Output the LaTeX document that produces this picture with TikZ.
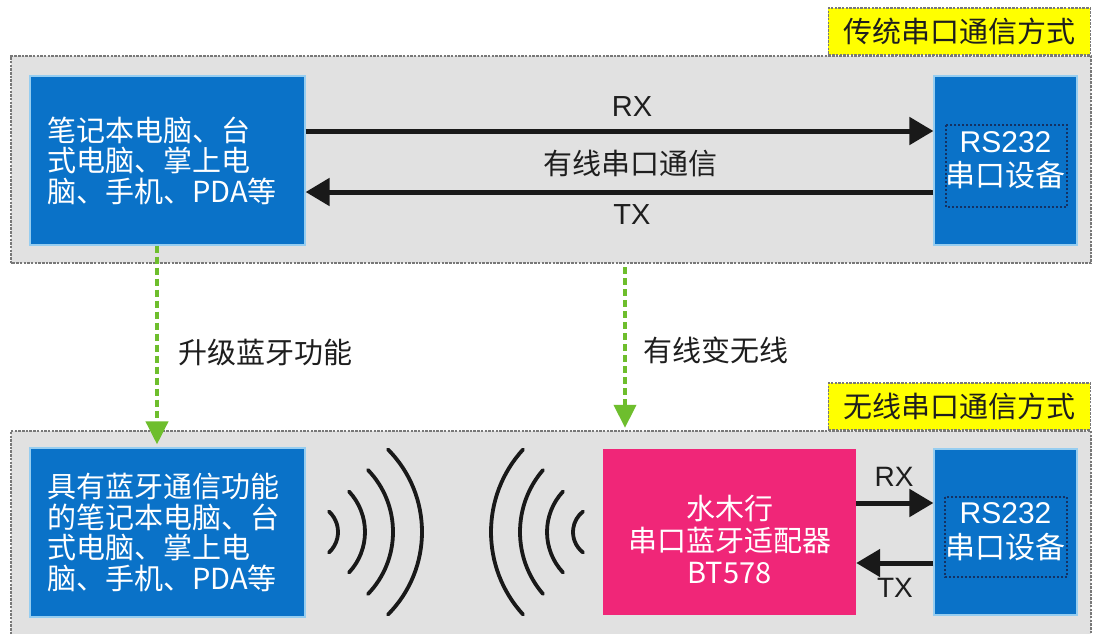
\documentclass[tikz,border=0pt]{standalone}
\usepackage{fontspec}
\setmainfont{Liberation Sans}
\newfontfamily\cjk{Noto Sans CJK SC}
\usetikzlibrary{arrows.meta,calc}
\definecolor{boxblue}{RGB}{10,114,200}
\definecolor{edgeblue}{RGB}{150,205,240}
\definecolor{pinkbox}{RGB}{240,38,120}
\definecolor{panelgray}{RGB}{225,225,225}
\definecolor{edgegray}{RGB}{120,120,120}
\definecolor{tagyellow}{RGB}{255,255,0}
\definecolor{arrowgreen}{RGB}{110,190,45}
\definecolor{ink}{RGB}{30,30,30}
\definecolor{innerdash}{RGB}{20,50,100}
\begin{document}
\begin{tikzpicture}[x=1pt,y=-1pt,
  panel/.style={rectangle, fill=panelgray, draw=none, inner sep=0pt},
  paneledge/.style={draw=edgegray, line width=1.5pt, dash pattern=on 2.5pt off 1.2pt},
  tagbox/.style={rectangle, fill=tagyellow, draw=edgegray, line width=1.5pt, dash pattern=on 2.5pt off 1.2pt,
     minimum width=262pt, minimum height=47pt, inner sep=0pt, anchor=south east,
     font=\cjk\fontsize{29}{30}\selectfont, text=ink},
  bluebox/.style={rectangle, fill=boxblue, draw=edgeblue, line width=1.2pt, text=white, inner sep=0pt},
  pcbox/.style={bluebox, minimum width=275pt, minimum height=169pt, text width=241pt, align=left,
     font=\cjk\fontsize{29}{30.5}\selectfont},
  devbox/.style={bluebox, minimum width=143pt, align=center, font=\fontsize{30}{34.5}\selectfont},
  pinknode/.style={rectangle, fill=pinkbox, draw=none, text=white, inner sep=0pt, minimum width=253pt,
     minimum height=166pt, align=center, font=\cjk\fontsize{29}{32}\selectfont},
  innerdashed/.style={draw=innerdash, line width=1.2pt, dash pattern=on 2pt off 2pt},
  sig/.style={draw=black!90, line width=5pt, -{Triangle[length=24pt,width=27pt]}},
  greenarrow/.style={draw=arrowgreen, line width=4pt, dash pattern=on 7pt off 4pt,
     -{Triangle[length=23pt,width=22pt]}},
  wave/.style={draw=black!90, line width=3.8pt, line cap=round},
  lbl/.style={font=\fontsize{29}{30}\selectfont, text=ink, inner sep=0pt},
  cjklbl/.style={font=\cjk\fontsize{29}{30}\selectfont, text=ink, inner sep=0pt}
]
\useasboundingbox (0,0) rectangle (1094,634);
\clip (0,0) rectangle (1094,634);
\fill[white] (0,0) rectangle (1094,634);

% panels
\node[panel, minimum width=1080pt, minimum height=207pt] (panel1) at (551,159.5) {};
\draw[paneledge] (panel1.south west) rectangle (panel1.north east);
\node[panel, minimum width=1080pt, minimum height=203pt] (panel2) at (551,532.5) {};
\draw[paneledge] (panel2.south west) -- (panel2.north west) -- (panel2.north east) -- (panel2.south east);

\node[tagbox] (tag1) at (panel1.north east) {传统串口通信方式};
\node[tagbox] (tag2) at (panel2.north east) {无线串口通信方式};

% top boxes
\node[pcbox] (pc1) at (167.5,160.5) {笔记本电脑、台\\式电脑、掌上电\\脑、手机、PDA等};
\node[devbox, minimum height=169pt] (dev1) at (1005.5,160.5) {RS232\\{\cjk 串口设备}};
\draw[innerdashed] (946,125) rectangle (1067,207);

% bottom boxes
\node[pcbox] (pc2) at (167.5,532.5) {具有蓝牙通信功能\\的笔记本电脑、台\\式电脑、掌上电\\脑、手机、PDA等};
\node[pinknode] (adapter) at (729.5,532) {\rule{0pt}{40pt}水木行\\串口蓝牙适配器\\BT578};
\node[devbox, minimum height=166pt] (dev2) at (1005.5,532) {RS232\\{\cjk 串口设备}};
\draw[innerdashed] (945,497) rectangle (1067,577);

% top signal arrows
\coordinate (rxy1) at (0,131);
\coordinate (txy1) at (0,192);
\draw[sig] (pc1.east |- rxy1) -- (dev1.west |- rxy1);
\draw[sig] (dev1.west |- txy1) -- (pc1.east |- txy1);
\node[lbl] (rx1) at (632,107) {RX};
\node[cjklbl] (wired) at (630.5,163) {有线串口通信};
\node[lbl] (tx1) at (632,215) {TX};

% bottom signal arrows
\coordinate (rxy2) at (0,503);
\coordinate (txy2) at (0,563);
\draw[sig] (adapter.east |- rxy2) -- (dev2.west |- rxy2);
\draw[sig] (dev2.west |- txy2) -- (adapter.east |- txy2);
\node[lbl, font=\fontsize{28}{30}\selectfont] (rx2) at (894,477) {RX};
\node[lbl, font=\fontsize{28}{30}\selectfont] (tx2) at (895,588) {TX};

% green transitions
\coordinate (g1) at (157,0);
\coordinate (g2) at (625,0);
\draw[greenarrow, shorten >=3pt] (pc1.south -| g1) -- (pc2.north -| g1);
\draw[greenarrow, shorten <=4pt, shorten >=3pt] (panel1.south -| g2) -- (panel2.north -| g2);
\node[cjklbl] (upgrade) at (265,352) {升级蓝牙功能};
\node[cjklbl] (wireless) at (715.5,350) {有线变无线};

% radio waves
\draw[wave] (310.2,532) ++(-47.5:27.8) arc[start angle=-47.5,end angle=47.5,radius=27.8];
\draw[wave] (305.7,532) ++(-43.1:59.3) arc[start angle=-43.1,end angle=43.1,radius=59.3];
\draw[wave] (303.6,532) ++(-43.9:89.4) arc[start angle=-43.9,end angle=43.9,radius=89.4];
\draw[wave] (304.9,532) ++(-44.8:117.1) arc[start angle=-44.8,end angle=44.8,radius=117.1];
\draw[wave] (613.3,532) ++(137.6:122.3) arc[start angle=137.6,end angle=222.4,radius=122.3];
\draw[wave] (615,532) ++(139.3:95) arc[start angle=139.3,end angle=220.7,radius=95];
\draw[wave] (606.3,532) ++(136.9:59.3) arc[start angle=136.9,end angle=223.1,radius=59.3];
\draw[wave] (599,532) ++(128:26) arc[start angle=128,end angle=232,radius=26];
\end{tikzpicture}
\end{document}
